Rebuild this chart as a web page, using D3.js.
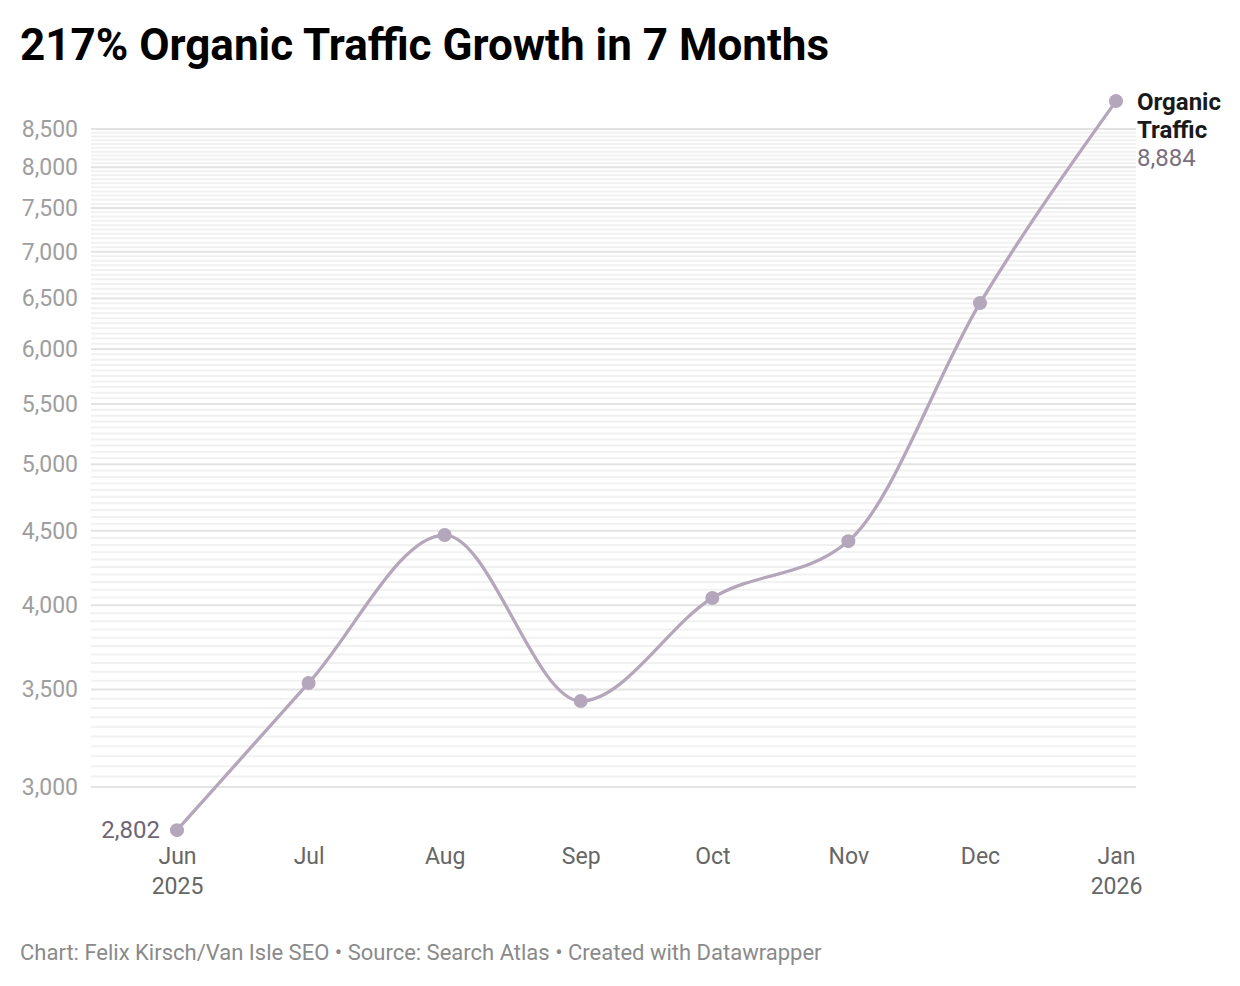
<!DOCTYPE html>
<html>
<head>
<meta charset="utf-8">
<script src="https://cdn.jsdelivr.net/npm/d3@7"></script>
<style>
  body { margin: 0; background: #fff; }
  svg { font-family: Roboto, "Noto Sans", sans-serif; }
</style>
</head>
<body>
<div id="chart"></div>
<script>
// data
var months = ["2025-06-01", "2025-07-01", "2025-08-01", "2025-09-01", "2025-10-01", "2025-11-01", "2025-12-01", "2026-01-01"];
var traffic = [2802, 3537, 4470, 3437, 4046, 4427, 6453, 8884];
var yTicks = [3000, 3500, 4000, 4500, 5000, 5500, 6000, 6500, 7000, 7500, 8000, 8500];
var xLabels = [["Jun", "2025"], ["Jul"], ["Aug"], ["Sep"], ["Oct"], ["Nov"], ["Dec"], ["Jan", "2026"]];

var W = 1240, H = 986;
var lineColor = "#b5a7bb";

var svg = d3.select("#chart").append("svg")
    .attr("width", W)
    .attr("height", H);

var parse = d3.timeParse("%Y-%m-%d");
var data = months.map(function(m, i) { return {date: parse(m), value: traffic[i]}; });

var x = d3.scaleTime()
    .domain([data[0].date, data[data.length - 1].date])
    .range([177, 1116]);

var y = d3.scaleLog()
    .domain([3000, 8500])
    .range([787, 129]);

// title
svg.append("text")
    .attr("x", 20)
    .attr("y", 60)
    .attr("font-size", 44)
    .attr("font-weight", 700)
    .attr("fill", "#000")
    .text("217% Organic Traffic Growth in 7 Months");

// minor grid every 50
var minor = d3.range(3000, 8501, 50);
svg.append("g").selectAll("line")
    .data(minor)
    .join("line")
    .attr("x1", 91)
    .attr("x2", 1136)
    .attr("y1", function(d) { return y(d); })
    .attr("y2", function(d) { return y(d); })
    .attr("stroke", function(d) { return d % 500 == 0 ? "#e3e3e3" : "#f1f1f1"; })
    .attr("stroke-width", 2);

// y axis labels
var yAxis = svg.append("g")
    .attr("transform", "translate(78,0)")
    .call(d3.axisLeft(y).tickValues(yTicks).tickFormat(d3.format(",")).tickSize(0).tickPadding(0));
yAxis.select(".domain").remove();
yAxis.selectAll("text")
    .attr("font-family", "Roboto, sans-serif")
    .attr("font-size", 23)
    .attr("fill", "#9e9e9e");

// x axis labels
var xAxis = svg.append("g")
    .attr("transform", "translate(0,840)")
    .call(d3.axisBottom(x).tickValues(data.map(function(d) { return d.date; })).tickSize(0).tickFormat(""));
xAxis.select(".domain").remove();
xAxis.selectAll(".tick").each(function(d, i) {
    var t = d3.select(this).append("text")
        .attr("text-anchor", "middle")
        .attr("font-family", "Roboto, sans-serif")
        .attr("font-size", 23)
        .attr("fill", "#666");
    xLabels[i].forEach(function(s, j) {
        t.append("tspan").attr("x", 0).attr("y", 24 + j * 30).text(s);
    });
});

// line
svg.append("path")
    .datum(data)
    .attr("fill", "none")
    .attr("stroke", lineColor)
    .attr("stroke-width", 3.3)
    .attr("d", d3.line()
        .curve(d3.curveMonotoneX)
        .x(function(d) { return x(d.date); })
        .y(function(d) { return y(d.value); }));

svg.append("g").selectAll("circle")
    .data(data)
    .join("circle")
    .attr("cx", function(d) { return x(d.date); })
    .attr("cy", function(d) { return y(d.value); })
    .attr("r", 7)
    .attr("fill", lineColor);

// value labels
var first = data[0], last = data[data.length - 1];
svg.append("text")
    .attr("x", x(first.date) - 17)
    .attr("y", y(first.value) + 8)
    .attr("text-anchor", "end")
    .attr("font-size", 24)
    .attr("fill", "#6f6675")
    .text(d3.format(",")(first.value));

var lbl = svg.append("text")
    .attr("x", x(last.date) + 21)
    .attr("font-size", 24);
lbl.append("tspan").attr("x", x(last.date) + 21).attr("y", y(last.value) + 9)
    .attr("font-weight", 700).attr("fill", "#1a1a1a").text("Organic");
lbl.append("tspan").attr("x", x(last.date) + 21).attr("y", y(last.value) + 37)
    .attr("font-weight", 700).attr("fill", "#1a1a1a").text("Traffic");
lbl.append("tspan").attr("x", x(last.date) + 21).attr("y", y(last.value) + 65)
    .attr("fill", "#7a6f80").text(d3.format(",")(last.value));

// footer
svg.append("text")
    .attr("x", 20)
    .attr("y", 960)
    .attr("font-size", 22)
    .attr("fill", "#8a8a8a")
    .text("Chart: Felix Kirsch/Van Isle SEO \u2022 Source: Search Atlas \u2022 Created with Datawrapper");
</script>
</body>
</html>
